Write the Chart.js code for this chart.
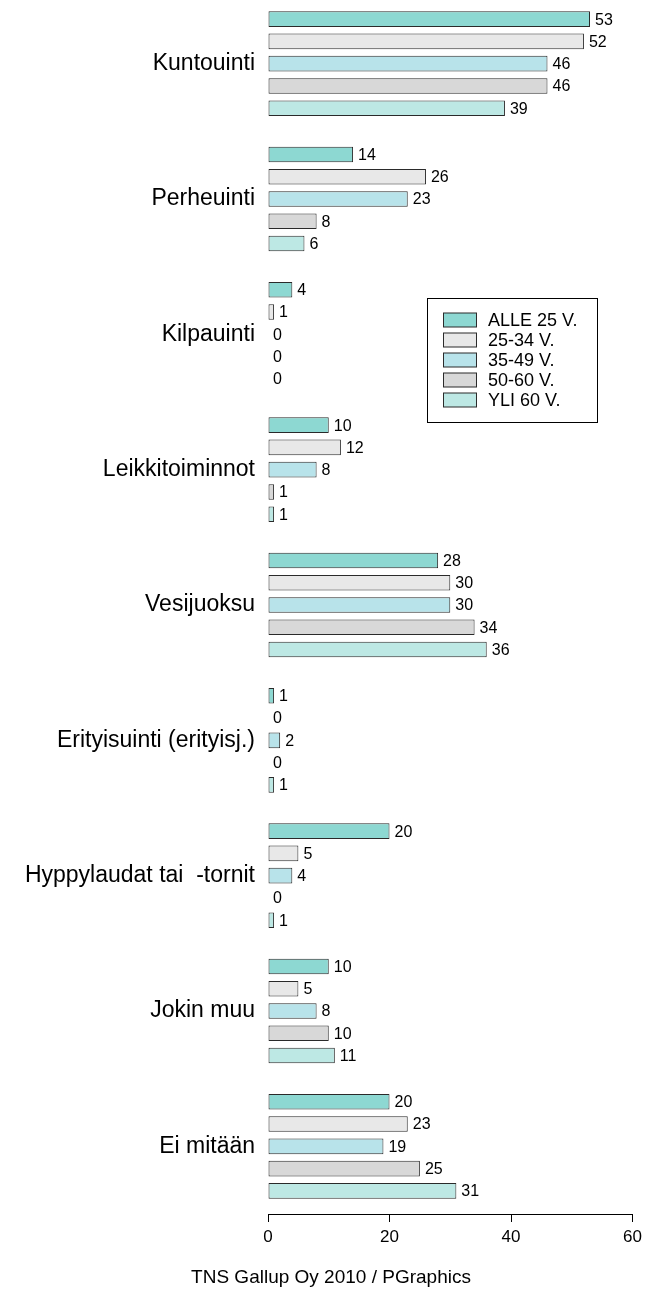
<!DOCTYPE html>
<html>
<head>
<meta charset="utf-8">
<script src="https://cdn.jsdelivr.net/npm/chart.js@4.4.0/dist/chart.umd.min.js"></script>
<style>
  html, body { margin: 0; padding: 0; background: #fff; overflow: hidden; }
  #wrap { position: absolute; left: 0; top: -20px; width: 647px; height: 1310px; }
</style>
</head>
<body>
<div id="wrap"><canvas id="chart"></canvas></div>
<script>
// data
const categories = ['Kuntouinti', 'Perheuinti', 'Kilpauinti', 'Leikkitoiminnot', 'Vesijuoksu',
    'Erityisuinti (erityisj.)', 'Hyppylaudat tai  -tornit', 'Jokin muu', 'Ei mitään'];
const seriesNames = ['ALLE 25 V.', '25-34 V.', '35-49 V.', '50-60 V.', 'YLI 60 V.'];
const alle25 = [53, 14, 4, 10, 28, 1, 20, 10, 20];
const age25_34 = [52, 26, 1, 12, 30, 0, 5, 5, 23];
const age35_49 = [46, 23, 0, 8, 30, 2, 4, 8, 19];
const age50_60 = [46, 8, 0, 1, 34, 0, 0, 10, 25];
const yli60 = [39, 6, 0, 1, 36, 1, 1, 11, 31];
const xTicks = [0, 20, 40, 60];
const footerText = 'TNS Gallup Oy 2010 / PGraphics';

const seriesColors = ['#8dd8d2', '#e8e8e8', '#b8e3ea', '#d8d8d8', '#bde8e4'];
const FONT = '"Liberation Sans", Arial, sans-serif';
const SHIFT = 20; // canvas is moved up by this much

const datasets = [alle25, age25_34, age35_49, age50_60, yli60].map((values, i) => ({
    label: seriesNames[i],
    data: values,
    backgroundColor: seriesColors[i],
    borderColor: '#2a2a2a',
    borderWidth: 1,
    borderSkipped: false,
    categoryPercentage: 0.823,
    barPercentage: 0.70
}));

// value labels at the end of each bar
const valueLabels = {
    id: 'valueLabels',
    afterDatasetsDraw(chart) {
        const ctx = chart.ctx;
        ctx.save();
        ctx.font = '16px ' + FONT;
        ctx.fillStyle = '#000';
        ctx.textAlign = 'left';
        ctx.textBaseline = 'middle';
        chart.data.datasets.forEach((ds, i) => {
            chart.getDatasetMeta(i).data.forEach((bar, j) => {
                ctx.fillText(String(ds.data[j]), bar.x + 5, bar.y + 1);
            });
        });
        ctx.restore();
    }
};

// legend box inside the plot
const boxLegend = {
    id: 'boxLegend',
    afterDraw(chart) {
        const ctx = chart.ctx;
        const left = 427, top = 298 + SHIFT, w = 170, h = 124;
        ctx.save();
        ctx.strokeStyle = '#000';
        ctx.lineWidth = 1;
        ctx.strokeRect(left + 0.5, top + 0.5, w, h);
        ctx.font = '18px ' + FONT;
        ctx.textBaseline = 'middle';
        chart.data.datasets.forEach((ds, i) => {
            const cy = top + 22 + i * 20;
            ctx.fillStyle = ds.backgroundColor;
            ctx.fillRect(443.5, cy - 7, 33, 14);
            ctx.strokeStyle = '#2a2a2a';
            ctx.strokeRect(443.5, cy - 7, 33, 14);
            ctx.fillStyle = '#000';
            ctx.fillText(ds.label, 488, cy + 1);
        });
        ctx.restore();
    }
};

// footer line
const footer = {
    id: 'footer',
    afterDraw(chart) {
        const ctx = chart.ctx;
        ctx.save();
        ctx.font = '19px ' + FONT;
        ctx.fillStyle = '#000';
        ctx.textAlign = 'center';
        ctx.textBaseline = 'middle';
        ctx.fillText(footerText, 331, 1278 + SHIFT);
        ctx.restore();
    }
};

new Chart(document.getElementById('chart'), {
    type: 'bar',
    data: { labels: categories, datasets },
    options: {
        indexAxis: 'y',
        responsive: true,
        maintainAspectRatio: false,
        animation: false,
        layout: { padding: { top: 16, right: 13, bottom: 0, left: 0 } },
        plugins: {
            legend: { display: false },
            tooltip: { enabled: false }
        },
        scales: {
            y: {
                grid: { display: false },
                border: { display: false },
                ticks: {
                    color: '#000',
                    font: { family: FONT, size: 23 },
                    padding: 5
                },
                afterFit(scale) {
                    scale.width = 268;
                    scale.paddingTop = 0;
                    scale.paddingBottom = 0;
                }
            },
            x: {
                min: 0,
                max: 60,
                afterBuildTicks(scale) { scale.ticks = xTicks.map(v => ({ value: v })); },
                grid: { display: true, drawOnChartArea: false, drawTicks: true, tickLength: 8, color: '#000' },
                border: { display: true, color: '#000', width: 1 },
                ticks: {
                    color: '#000',
                    font: { family: FONT, size: 17 },
                    padding: 5,
                    maxRotation: 0
                },
                afterFit(scale) { scale.height = 76; }
            }
        }
    },
    plugins: [valueLabels, boxLegend, footer]
});
</script>
</body>
</html>
